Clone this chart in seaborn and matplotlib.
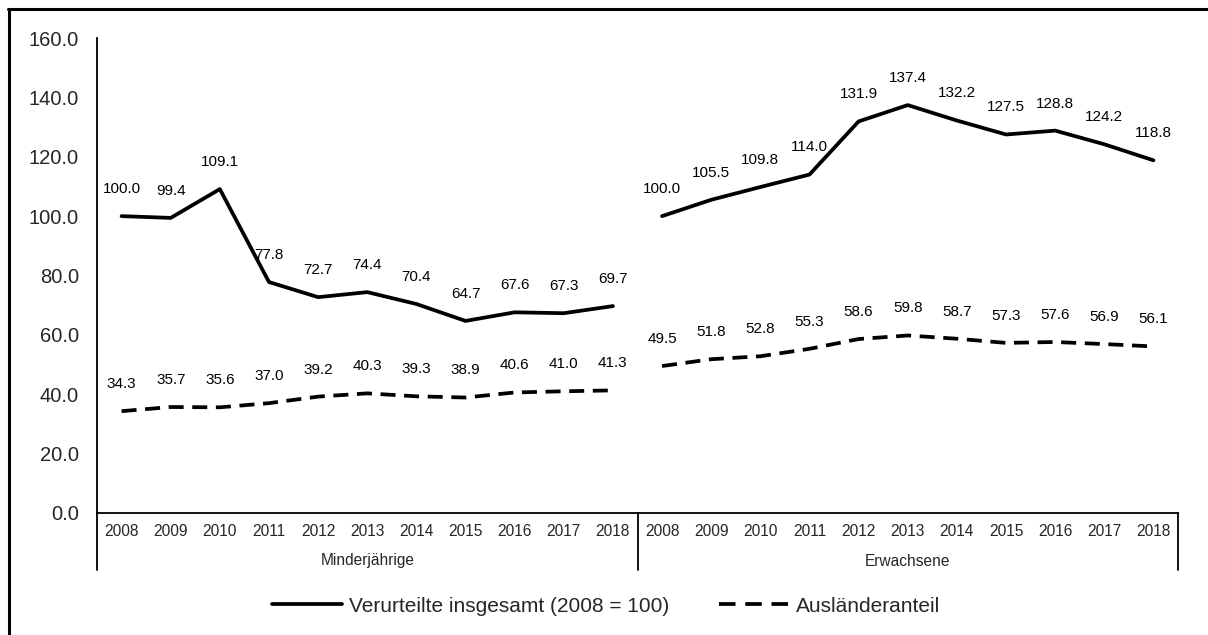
import numpy as np
import pandas as pd
import matplotlib
matplotlib.use("Agg")
import matplotlib.pyplot as plt
from matplotlib.lines import Line2D
import seaborn as sns

# --- Data ---
years = ["2008", "2009", "2010", "2011", "2012", "2013", "2014", "2015", "2016", "2017", "2018"]
groups = ["Minderjährige", "Erwachsene"]
verurteilte_minder = [100.0, 99.4, 109.1, 77.8, 72.7, 74.4, 70.4, 64.7, 67.6, 67.3, 69.7]
verurteilte_erw = [100.0, 105.5, 109.8, 114.0, 131.9, 137.4, 132.2, 127.5, 128.8, 124.2, 118.8]
auslaender_minder = [34.3, 35.7, 35.6, 37.0, 39.2, 40.3, 39.3, 38.9, 40.6, 41.0, 41.3]
auslaender_erw = [49.5, 51.8, 52.8, 55.3, 58.6, 59.8, 58.7, 57.3, 57.6, 56.9, 56.1]
series_names = ["Verurteilte insgesamt (2008 = 100)", "Ausländeranteil"]

# long table, one row per point
rows = []
values = {
    (series_names[0], groups[0]): verurteilte_minder,
    (series_names[0], groups[1]): verurteilte_erw,
    (series_names[1], groups[0]): auslaender_minder,
    (series_names[1], groups[1]): auslaender_erw,
}
for (s, g), vals in values.items():
    gi = groups.index(g)
    for i, v in enumerate(vals):
        rows.append({"series": s, "group": g, "segment": f"{s}|{g}",
                     "pos": gi * len(years) + i, "value": v})
df = pd.DataFrame(rows)

# --- Plot ---
sns.set_theme(style="white")
plt.rcParams["font.family"] = ["Liberation Sans", "DejaVu Sans"]

W, H = 1208, 635
fig = plt.figure(figsize=(W / 100, H / 100), dpi=100)
ax = fig.add_axes([97 / W, 1 - 513 / H, (1178 - 97) / W, (513 - 38) / H])

LW = 2.7
dash = (4.0, 2.3)
sns.lineplot(data=df, x="pos", y="value", style="series", units="segment",
             estimator=None, color="black", linewidth=LW, legend=False,
             dashes={series_names[0]: "", series_names[1]: dash}, ax=ax)

for _, r in df.iterrows():
    ax.annotate(f"{r['value']:.1f}", (r["pos"], r["value"]), xytext=(0, 19.5),
                textcoords="offset points", ha="center", va="center",
                fontsize=11, color="black")

n = len(years) * len(groups)
ax.set_xlim(-0.5, n - 0.5)
ax.set_ylim(0, 160)
ax.set_yticks(np.arange(0, 161, 20))
ax.set_yticklabels([f"{v:.1f}" for v in np.arange(0, 161, 20)], fontsize=14.5)
ax.set_xticks(range(n))
ax.set_xticklabels(years * len(groups), fontsize=11.2)
ax.tick_params(axis="x", length=0, pad=8)
ax.tick_params(axis="y", length=0, pad=13)
ax.set_xlabel("")
ax.set_ylabel("")
for sp in ["top", "right"]:
    ax.spines[sp].set_visible(False)
for sp in ["left", "bottom"]:
    ax.spines[sp].set_color("black")
    ax.spines[sp].set_linewidth(1.3)

# group separators and group labels below the axis
trans = ax.get_xaxis_transform()
h_ax = 513 - 38
for b in [-0.5, len(years) - 0.5, n - 0.5]:
    ax.plot([b, b], [0, -57 / h_ax], transform=trans, color="black", lw=1.3, clip_on=False)
for gi, g in enumerate(groups):
    ax.text(gi * len(years) + (len(years) - 1) / 2, -48 / h_ax, g,
            transform=trans, ha="center", va="center", fontsize=11.2)

# legend
handles = [Line2D([], [], color="black", lw=LW),
           Line2D([], [], color="black", lw=LW, dashes=(4.4, 2.6))]
fig.legend(handles, series_names, loc="center", bbox_to_anchor=(606 / W, 1 - 606 / H),
           ncol=2, frameon=False, fontsize=15, handlelength=3.4, handletextpad=0.3,
           columnspacing=2.4)

# outer frame (top and left edges are what is visible)
fig.add_artist(Line2D([8 / W, 1], [1 - 9 / H, 1 - 9 / H], transform=fig.transFigure,
                      color="black", lw=2.2))
fig.add_artist(Line2D([9 / W, 9 / W], [0, 1 - 9 / H], transform=fig.transFigure,
                      color="black", lw=2.2))

fig.savefig("out.png", dpi=100)
